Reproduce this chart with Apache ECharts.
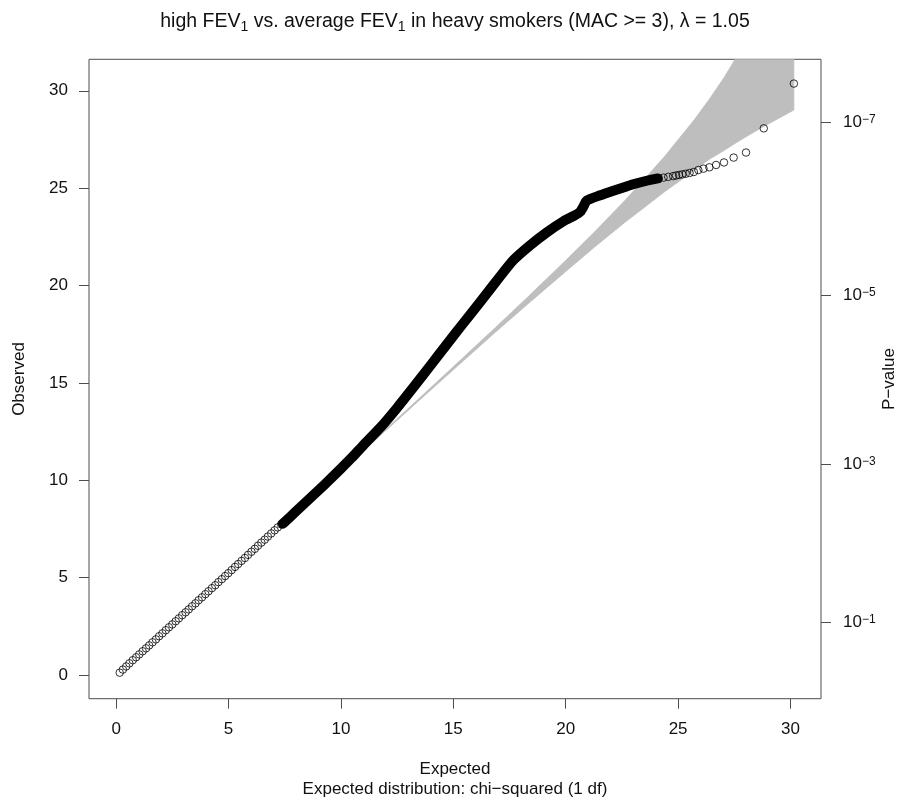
<!DOCTYPE html>
<html>
<head>
<meta charset="utf-8">
<script src="https://cdn.jsdelivr.net/npm/echarts@6/dist/echarts.min.js"></script>
<style>
html,body{margin:0;padding:0;background:#fff;}
#chart{width:899px;height:802px;}
</style>
</head>
<body>
<div id="chart"></div>
<script>
// ---- axis ticks ----
var xTicks = [0, 5, 10, 15, 20, 25, 30];
var yTicks = [0, 5, 10, 15, 20, 25, 30];
var pTickExponents = [-1, -3, -5, -7];
var pTickPositions = [2.7055, 10.8276, 19.5114, 28.3740]; // chi-squared (1 df) value of each p tick

// ---- confidence band (expected, lower, upper) ----
var bandX     = [8.32, 12.55, 14.83, 16.88, 18.21, 19.95, 21.27, 22.62, 23.59, 24.37, 25.70, 26.39, 27.04, 27.47, 28.02, 28.81, 30.15];
var bandLower = [8.72, 13.13, 15.50, 17.61, 18.95, 20.67, 21.96, 23.23, 24.09, 24.79, 25.90, 26.48, 26.93, 27.25, 27.64, 28.17, 29.01];
var bandUpper = [8.75, 13.21, 15.65, 17.85, 19.30, 21.23, 22.74, 24.35, 25.58, 26.59, 28.48, 29.57, 30.67, 31.49, 32.63, 34.55, 39.14];

// ---- sparse points, low end ----
var lowX = [0.16, 0.30, 0.45, 0.59, 0.74, 0.89, 1.03, 1.18, 1.33, 1.47, 1.62, 1.77, 1.91, 2.06, 2.21, 2.35, 2.50, 2.65, 2.79, 2.94, 3.09, 3.23, 3.38, 3.53, 3.67, 3.82, 3.97, 4.11, 4.26, 4.41, 4.55, 4.70, 4.85, 4.99, 5.14, 5.29, 5.43, 5.58, 5.73, 5.87, 6.02, 6.17, 6.31, 6.46, 6.61, 6.75, 6.90, 7.05, 7.19, 7.34];
var lowY = [0.12, 0.28, 0.44, 0.60, 0.76, 0.91, 1.06, 1.22, 1.37, 1.52, 1.68, 1.83, 1.99, 2.14, 2.30, 2.45, 2.60, 2.76, 2.91, 3.07, 3.22, 3.37, 3.53, 3.68, 3.84, 3.99, 4.15, 4.30, 4.46, 4.61, 4.77, 4.92, 5.08, 5.23, 5.39, 5.55, 5.70, 5.86, 6.01, 6.17, 6.33, 6.48, 6.64, 6.80, 6.95, 7.11, 7.27, 7.43, 7.58, 7.74];

// ---- dense middle run of points (overlapping into a solid trace) ----
var denseX = [7.42, 8.0, 8.5, 9.0, 9.5, 10.0, 10.5, 11.0, 11.75, 12.5, 13.23, 14.0, 14.71, 15.4, 16.19, 16.9, 17.67, 18.4, 19.16, 19.9, 20.4, 20.64, 20.8, 20.93, 21.5, 22.12, 22.6, 23.0, 23.6, 24.1];
var denseY = [7.77, 8.40, 8.94, 9.48, 10.03, 10.60, 11.18, 11.80, 12.70, 13.72, 14.78, 15.92, 16.98, 18.00, 19.15, 20.20, 21.30, 22.05, 22.73, 23.30, 23.60, 23.78, 24.08, 24.36, 24.62, 24.87, 25.05, 25.20, 25.38, 25.50];

// ---- sparse points, high end ----
var highX = [23.01, 23.27, 23.57, 23.85, 24.08, 24.35, 24.56, 24.78, 24.91, 25.04, 25.19, 25.34, 25.51, 25.70, 25.90, 26.13, 26.39, 26.69, 27.04, 27.47, 28.02, 28.81, 30.15];
var highY = [25.20, 25.28, 25.36, 25.43, 25.48, 25.54, 25.58, 25.62, 25.65, 25.68, 25.71, 25.74, 25.78, 25.83, 25.93, 26.00, 26.07, 26.19, 26.32, 26.57, 26.83, 28.07, 30.37];

function zip(a, b) { return a.map(function (v, i) { return [v, b[i]]; }); }

var FONT = '"Liberation Sans", Arial, Helvetica, sans-serif';
var AX = '#4d4d4d';
var TXT = '#111';

var chart = echarts.init(document.getElementById('chart'), null, {renderer: 'canvas'});

var option = {
  animation: false,
  backgroundColor: '#fff',
  textStyle: {fontFamily: FONT},
  grid: {left: 89, right: 78, top: 59.3, bottom: 103.3, show: true, borderColor: AX, borderWidth: 1, backgroundColor: 'transparent'},
  xAxis: {
    type: 'value', min: -1.206, max: 31.356,
    axisLine: {show: false, onZero: false},
    splitLine: {show: false},
    axisTick: {show: true, length: 10, lineStyle: {color: AX, width: 1}, customValues: xTicks},
    axisLabel: {customValues: xTicks, margin: 22, fontSize: 17, color: TXT, fontFamily: FONT}
  },
  yAxis: [{
    type: 'value', min: -1.216, max: 31.616, position: 'left',
    axisLine: {show: false, onZero: false},
    splitLine: {show: false},
    axisTick: {show: true, length: 10, lineStyle: {color: AX, width: 1}, customValues: yTicks},
    axisLabel: {customValues: yTicks, margin: 21, fontSize: 17, color: TXT, fontFamily: FONT}
  }, {
    type: 'value', min: -1.216, max: 31.616, position: 'right',
    axisLine: {show: false, onZero: false},
    splitLine: {show: false},
    axisTick: {show: true, length: 10, lineStyle: {color: AX, width: 1}, customValues: pTickPositions},
    axisLabel: {
      customValues: pTickPositions, margin: 22, fontSize: 17, color: TXT, fontFamily: FONT,
      formatter: function (v) {
        var best = 0;
        for (var i = 1; i < pTickPositions.length; i++) {
          if (Math.abs(pTickPositions[i] - v) < Math.abs(pTickPositions[best] - v)) best = i;
        }
        return '10{sup|\u2212' + (-pTickExponents[best]) + '}';
      },
      rich: {sup: {fontSize: 12, lineHeight: 12, verticalAlign: 'top', color: TXT, fontFamily: FONT}}
    }
  }],
  series: [{
    type: 'custom',
    clip: true,
    silent: true,
    z: 1,
    data: bandX.map(function (x, i) { return [x, bandLower[i], bandUpper[i]]; }),
    encode: {x: 0, y: [1, 2]},
    renderItem: function (params, api) {
      if (params.dataIndex !== 0) return null;
      var pts = [];
      for (var i = 0; i < bandX.length; i++) pts.push(api.coord([bandX[i], bandUpper[i]]));
      for (var j = bandX.length - 1; j >= 0; j--) pts.push(api.coord([bandX[j], bandLower[j]]));
      return {type: 'polygon', shape: {points: pts}, style: {fill: '#bebebe', stroke: '#bebebe', lineWidth: 0.8, lineJoin: 'round'}};
    }
  }, {
    type: 'line',
    z: 2,
    silent: true,
    symbol: 'none',
    smooth: 0.2,
    data: zip(denseX, denseY),
    lineStyle: {color: '#000', width: 10, cap: 'round', join: 'round'}
  }, {
    type: 'scatter',
    z: 3,
    silent: true,
    symbol: 'circle',
    symbolSize: 7.5,
    data: zip(lowX, lowY),
    itemStyle: {color: 'rgba(0,0,0,0)', borderColor: '#000', borderWidth: 1}
  }, {
    type: 'scatter',
    z: 3,
    silent: true,
    symbol: 'circle',
    symbolSize: 7.5,
    data: zip(highX, highY),
    itemStyle: {color: 'rgba(0,0,0,0)', borderColor: '#000', borderWidth: 1}
  }],
  graphic: [{
    type: 'text', x: 455, y: 22, silent: true,
    style: {
      text: 'high FEV{sub|1} vs. average FEV{sub|1} in heavy smokers (MAC >= 3), \u03bb = 1.05',
      align: 'center', verticalAlign: 'middle', fontSize: 19.5, fontFamily: FONT, fill: TXT, lineHeight: 24,
      rich: {sub: {fontSize: 14, lineHeight: 14, verticalAlign: 'bottom', fontFamily: FONT, fill: TXT}}
    }
  }, {
    type: 'text', x: 455, y: 769, silent: true,
    style: {text: 'Expected', align: 'center', verticalAlign: 'middle', fontSize: 17, fontFamily: FONT, fill: TXT}
  }, {
    type: 'text', x: 455, y: 789, silent: true,
    style: {text: 'Expected distribution: chi\u2212squared (1 df)', align: 'center', verticalAlign: 'middle', fontSize: 17, fontFamily: FONT, fill: TXT}
  }, {
    type: 'text', x: 19, y: 379, rotation: Math.PI / 2, silent: true,
    style: {text: 'Observed', align: 'center', verticalAlign: 'middle', fontSize: 17, fontFamily: FONT, fill: TXT}
  }, {
    type: 'text', x: 889, y: 379, rotation: Math.PI / 2, silent: true,
    style: {text: 'P\u2212value', align: 'center', verticalAlign: 'middle', fontSize: 17, fontFamily: FONT, fill: TXT}
  }]
};
chart.setOption(option);
</script>
</body>
</html>
